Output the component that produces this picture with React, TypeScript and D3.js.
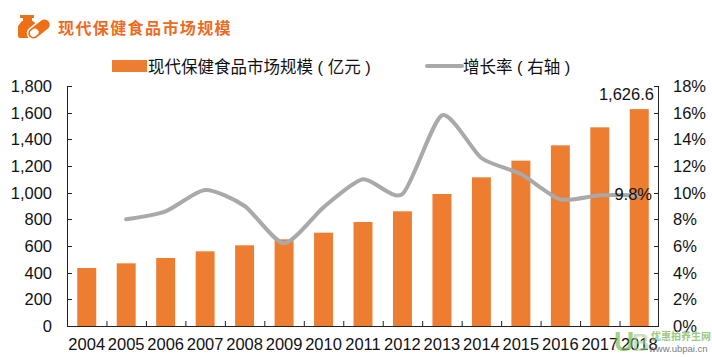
import React from "react";
import * as d3 from "d3";

const years = ["2004","2005","2006","2007","2008","2009","2010","2011","2012","2013","2014","2015","2016","2017","2018"];
const marketSize = [435,470,510,560,605,650,700,780,860,990,1115,1240,1355,1490,1626.6];
const growthRate: (number | null)[] = [null,8.0,8.6,10.2,9.0,6.2,8.9,11.0,9.9,15.8,12.6,11.4,9.5,9.8,9.8];
const leftTicks = [0,200,400,600,800,1000,1200,1400,1600,1800];
const rightTicks = [0,2,4,6,8,10,12,14,16,18];

const M = { left: 67, right: 659, top: 86, bottom: 326 };
const sans = "'Liberation Sans', Arial, sans-serif";
const cjk = "'Liberation Sans', 'Noto Sans CJK SC', sans-serif";

export default function App() {
  const x = d3.scaleBand<string>().domain(years).range([M.left, M.right]).paddingInner(0.52).paddingOuter(0.26);
  const xStep = d3.scaleBand<string>().domain(years).range([M.left, M.right]);
  const yL = d3.scaleLinear().domain([0, 1800]).range([M.bottom, M.top]);
  const yR = d3.scaleLinear().domain([0, 18]).range([M.bottom, M.top]);
  const cx = (y: string) => (xStep(y) as number) + xStep.bandwidth() / 2;
  const pts = years.map((y, i) => ({ y, v: growthRate[i] })).filter((d) => d.v !== null);
  const line = d3.line<{ y: string; v: number | null }>().x((d) => cx(d.y)).y((d) => yR(d.v as number)).curve(d3.curveCardinal.tension(0.3));

  return (
    <svg width={712} height={357} style={{ position: "absolute", left: 0, top: 0, background: "#fff" }}>
      {/* title icon */}
      <g>
        <rect x={20} y={15} width={14} height={3} fill="#ee7016" />
        <rect x={23} y={18} width={9} height={3} fill="#ee7016" />
        <path d="M22 21 H33 L38 26 V38 H20 Q18 38 18 36 V26 Z" fill="#ee7016" />
        <g transform="rotate(-38 39 29)">
          <rect x={26} y={23} width={26} height={12} rx={6} fill="#ee7016" stroke="#fff" strokeWidth={1.5} />
          <rect x={28.5} y={25.5} width={9} height={7} rx={3.5} fill="#fff" />
        </g>
      </g>
      <text x={58} y={34} fontFamily="'Noto Sans CJK SC'" fontWeight={700} fontSize={16} letterSpacing={1.4} fill="#f06a1e">现代保健食品市场规模</text>

      {/* legend */}
      <rect x={112} y={60} width={35} height={12} fill="#ed7d31" />
      <text x={148} y={73} fontFamily={cjk} fontSize={16.5} fill="#111">现代保健食品市场规模 ( 亿元 )</text>
      <line x1={427} x2={462} y1={66} y2={66} stroke="#a9a9a9" strokeWidth={4} strokeLinecap="round" />
      <text x={463} y={73} fontFamily={cjk} fontSize={16.5} fill="#111">增长率 ( 右轴 )</text>

      {/* bars */}
      {years.map((y, i) => (
        <rect key={y} x={x(y)} y={yL(marketSize[i])} width={x.bandwidth()} height={M.bottom - yL(marketSize[i])} fill="#ed7d31" />
      ))}

      {/* axes */}
      <g stroke="#222" strokeWidth={1} fill="none">
        <line x1={M.left + 0.5} x2={M.left + 0.5} y1={M.top} y2={M.bottom} />
        <line x1={M.right - 0.5} x2={M.right - 0.5} y1={M.top} y2={M.bottom} />
        <line x1={M.left} x2={M.right} y1={M.bottom + 0.5} y2={M.bottom + 0.5} />
        {leftTicks.map((t) => (
          <line key={t} x1={M.left} x2={M.left + 5} y1={Math.round(yL(t)) + 0.5} y2={Math.round(yL(t)) + 0.5} />
        ))}
        {rightTicks.map((t) => (
          <line key={t} x1={M.right - 5} x2={M.right} y1={Math.round(yR(t)) + 0.5} y2={Math.round(yR(t)) + 0.5} />
        ))}
        {years.map((y) => (
          <line key={y} x1={(xStep(y) as number) + 0.5} x2={(xStep(y) as number) + 0.5} y1={M.bottom - 5} y2={M.bottom} />
        ))}
      </g>

      {/* growth line */}
      <path d={line(pts) as string} fill="none" stroke="#a9a9a9" strokeWidth={4} strokeLinecap="round" />

      {/* tick labels */}
      <g fontFamily={sans} fontSize={16.5} fill="#111">
        {leftTicks.map((t) => (
          <text key={t} x={52} y={yL(t) + 6} textAnchor="end">{d3.format(",")(t)}</text>
        ))}
        {rightTicks.map((t) => (
          <text key={t} x={673} y={yR(t) + 6}>{t}%</text>
        ))}
        {years.map((y) => (
          <text key={y} x={cx(y)} y={350} textAnchor="middle">{y}</text>
        ))}
        <text x={654} y={100} textAnchor="end">{d3.format(",.1f")(marketSize[14])}</text>
        <text x={652} y={200} textAnchor="end">{growthRate[14]}%</text>
      </g>

      {/* watermark */}
      <g opacity={0.85}>
        <text x={614} y={351} fontFamily={sans} fontSize={28} fontWeight={700} fill="#7dbb52" opacity={0.8}>U</text>
        <text x={632} y={351} fontFamily={sans} fontSize={24} fontWeight={700} fill="#a9d08e" opacity={0.7}>B</text>
        <text x={651} y={340} fontFamily="'Noto Sans CJK SC'" fontSize={10} fontWeight={700} fill="#8fbf6a">优惠拍养生网</text>
        <text x={649} y={352} fontFamily={sans} fontSize={9.5} fill="#666">www.ubpai.cn</text>
      </g>
    </svg>
  );
}
